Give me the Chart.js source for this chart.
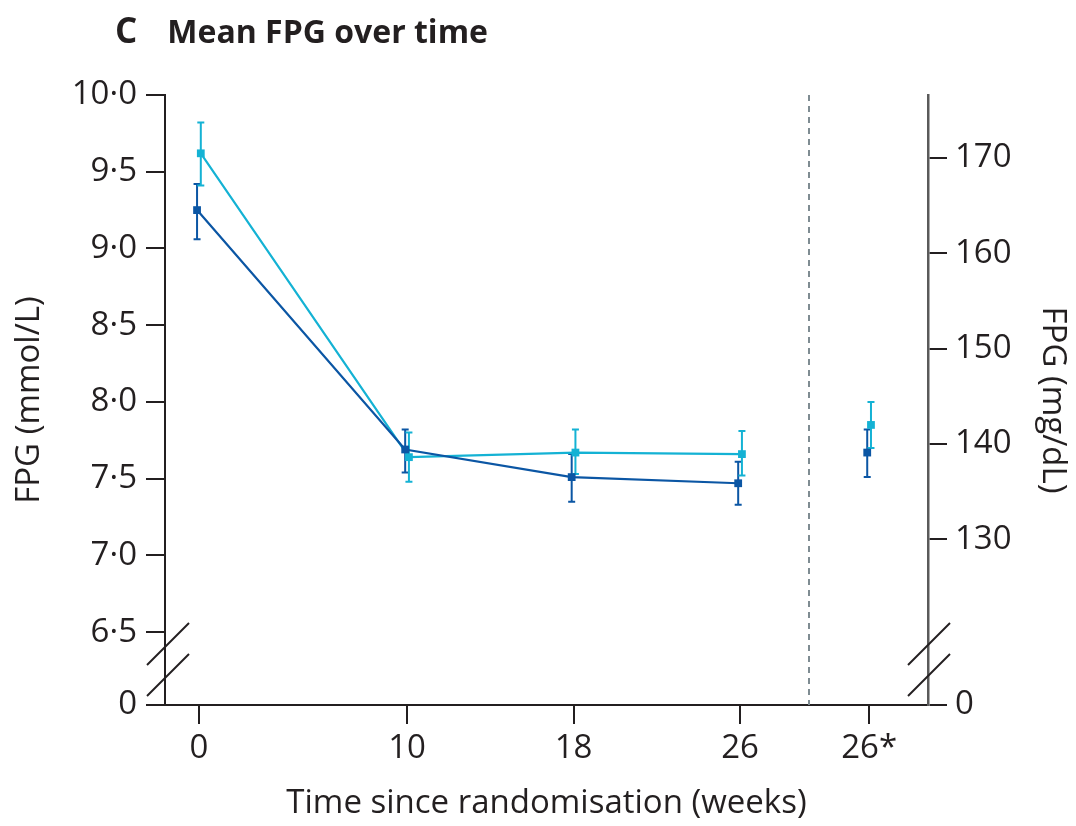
<!DOCTYPE html>
<html>
<head>
<meta charset="utf-8">
<script src="https://cdn.jsdelivr.net/npm/chart.js@4.4.1/dist/chart.umd.min.js"></script>
<style>
  html, body { margin: 0; padding: 0; background: #fff; }
  #wrap { position: relative; width: 1076px; height: 826px; }
  #title { position: absolute; left: 115px; top: 6px; font-family: 'Open Sans', sans-serif; font-weight: 700; font-size: 32px; color: #231f20; white-space: nowrap; }
  #title .tag { font-size: 35px; margin-right: 30px; }
</style>
</head>
<body>
<div id="wrap">
  <canvas id="fpg" width="1076" height="826"></canvas>
  <div id="title"><span class="tag">C</span>Mean FPG over time</div>
</div>
<script>
// weeks since randomisation; last one is the separate 26* visit
const weekLabels = ['0', '10', '18', '26', '26*'];
const weekPos = [0, 10, 18, 26, 32.2];

// FPG mmol/L, mean with error bar ends
const darkMean = [9.25, 7.69, 7.51, 7.47, 7.67];
const darkLow = [9.06, 7.54, 7.35, 7.33, 7.51];
const darkHigh = [9.42, 7.82, 7.66, 7.61, 7.82];

const tealMean = [9.62, 7.64, 7.67, 7.66, 7.85];
const tealLow = [9.41, 7.48, 7.53, 7.52, 7.70];
const tealHigh = [9.82, 7.80, 7.82, 7.81, 8.00];

const mmolTicks = [6.5, 7.0, 7.5, 8.0, 8.5, 9.0, 9.5, 10.0];
const mgdlTicks = [130, 140, 150, 160, 170];

const ink = '#231f20';
const dark = '#0b56a4';
const teal = '#14b2d4';
const fontFamily = "'Open Sans', sans-serif";
const textSize = 33;

const mmolMin = 6.025, mmolMax = 10.0;   // bottom of break shows as 0
const mgdlMin = 112.6, mgdlMax = 176.6;
const dividerWeek = 29.3;
const jitter = 0.09;

function points(mean, shift) {
  return weekPos.map((w, i) => ({ x: w + shift, y: mean[i] }));
}

const errorBars = {
  id: 'errorBars',
  beforeDatasetsDraw(chart) {
    const { ctx, chartArea, scales: { x, y } } = chart;
    // dashed divider before the 26* visit
    ctx.save();
    ctx.strokeStyle = '#7f8c92';
    ctx.lineWidth = 2;
    ctx.setLineDash([6, 5]);
    const dx = Math.round(x.getPixelForValue(dividerWeek));
    ctx.beginPath();
    ctx.moveTo(dx, chartArea.top);
    ctx.lineTo(dx, chartArea.bottom);
    ctx.stroke();
    ctx.restore();

    const groups = [
      [darkLow, darkHigh, dark, -jitter],
      [tealLow, tealHigh, teal, jitter]
    ];
    ctx.save();
    ctx.lineWidth = 2;
    groups.forEach(([lo, hi, color, shift]) => {
      ctx.strokeStyle = color;
      weekPos.forEach((w, i) => {
        const px = x.getPixelForValue(w + shift);
        const y0 = y.getPixelForValue(lo[i]);
        const y1 = y.getPixelForValue(hi[i]);
        ctx.beginPath();
        ctx.moveTo(px, y0); ctx.lineTo(px, y1);
        ctx.moveTo(px - 3.5, y0); ctx.lineTo(px + 3.5, y0);
        ctx.moveTo(px - 3.5, y1); ctx.lineTo(px + 3.5, y1);
        ctx.stroke();
      });
    });
    ctx.restore();
  },
  afterDraw(chart) {
    // axis break marks
    const { ctx, chartArea } = chart;
    ctx.save();
    ctx.strokeStyle = ink;
    ctx.lineWidth = 2;
    [chartArea.left + 3, chartArea.right + 1].forEach(cx => {
      [chartArea.bottom - 61, chartArea.bottom - 30].forEach(cy => {
        ctx.beginPath();
        ctx.moveTo(cx - 21, cy + 21);
        ctx.lineTo(cx + 21, cy - 21);
        ctx.stroke();
      });
    });
    ctx.restore();
  }
};

function zeroOrDot(v, min) {
  if (v < min + 1e-6) return '0';
  return v.toFixed(1).replace('.', '·');
}

const axisGrid = { drawOnChartArea: false, tickLength: 19, color: ink, lineWidth: 2 };
const seriesStyle = {
  borderWidth: 2.2,
  pointStyle: 'rect',
  pointRadius: 5.5,
  pointBorderWidth: 0,
  segment: { borderColor: c => (c.p1DataIndex === 4 ? 'rgba(0,0,0,0)' : undefined) }
};

new Chart(document.getElementById('fpg'), {
  type: 'line',
  data: {
    datasets: [
      Object.assign({ label: 'dark', data: points(darkMean, -jitter), borderColor: dark, backgroundColor: dark }, seriesStyle),
      Object.assign({ label: 'teal', data: points(tealMean, jitter), borderColor: teal, backgroundColor: teal }, seriesStyle)
    ]
  },
  options: {
    responsive: false,
    animation: false,
    devicePixelRatio: 1,
    layout: { padding: { top: 95, left: 0, right: 0, bottom: 0 } },
    plugins: { legend: { display: false }, tooltip: { enabled: false } },
    scales: {
      x: {
        type: 'linear',
        position: 'bottom',
        min: -1.63,
        max: 35.03,
        afterBuildTicks: s => { s.ticks = weekPos.map(v => ({ value: v })); },
        afterFit: s => { s.height = 121; },
        grid: axisGrid,
        border: { color: ink, width: 2 },
        ticks: {
          autoSkip: false, maxRotation: 0, padding: 5, color: ink,
          font: { family: fontFamily, size: textSize },
          callback: (v, i) => weekLabels[i]
        },
        title: {
          display: true, text: 'Time since randomisation (weeks)', color: ink,
          font: { family: fontFamily, size: textSize }, padding: { top: 0, bottom: 3 }
        }
      },
      y: {
        position: 'left',
        min: mmolMin,
        max: mmolMax,
        afterBuildTicks: s => { s.ticks = [mmolMin].concat(mmolTicks).map(v => ({ value: v })); },
        afterFit: s => { s.width = 165; },
        grid: axisGrid,
        border: { color: ink, width: 2 },
        ticks: {
          padding: 9, color: ink,
          font: { family: fontFamily, size: textSize },
          callback: v => zeroOrDot(v, mmolMin)
        },
        title: {
          display: true, text: 'FPG (mmol/L)', color: ink,
          font: { family: fontFamily, size: textSize }, padding: { top: 10, bottom: 0 }
        }
      },
      y1: {
        position: 'right',
        min: mgdlMin,
        max: mgdlMax,
        afterBuildTicks: s => { s.ticks = [mgdlMin].concat(mgdlTicks).map(v => ({ value: v })); },
        afterFit: s => { s.width = 148; },
        grid: axisGrid,
        border: { color: '#5a5a5a', width: 2.5 },
        ticks: {
          padding: 8, color: ink,
          font: { family: fontFamily, size: textSize },
          callback: v => (v < mgdlMin + 1e-6 ? '0' : String(v))
        },
        title: {
          display: true, text: 'FPG (mg/dL)', color: ink,
          font: { family: fontFamily, size: textSize }, padding: { top: 4, bottom: 4 }
        }
      }
    }
  },
  plugins: [errorBars]
});
</script>
</body>
</html>
